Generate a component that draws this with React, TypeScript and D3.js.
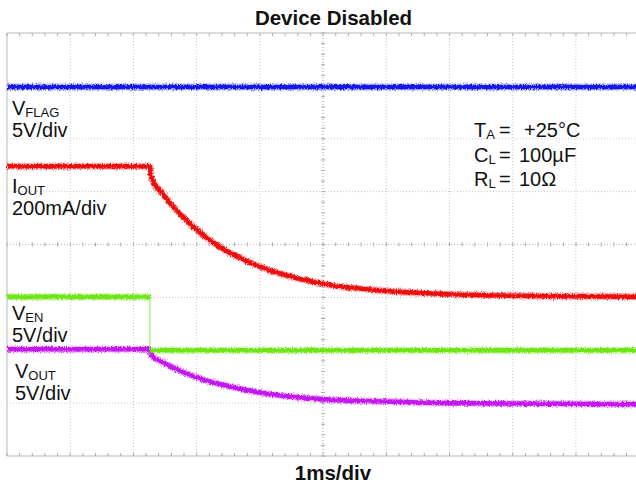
import * as d3 from 'd3'

// time in ms (1ms/div), values in screen divisions (0 = bottom graticule line)
const VFLAG_T = [0, 10]
const VFLAG_V = [6.98, 6.98]

const IOUT_T = [0, 2.26, 2.28, 2.47, 3.02, 3.32, 4.0, 4.89, 6.01, 7.01, 8.02, 9.02, 10]
const IOUT_V = [5.48, 5.48, 5.28, 4.95, 4.26, 3.99, 3.58, 3.28, 3.12, 3.06, 3.03, 3.02, 3.01]

const VEN_T = [0, 2.26, 2.26, 10]
const VEN_V = [3.01, 3.01, 2.0, 2.0]

const VOUT_T = [0, 2.26, 2.28, 2.47, 2.99, 3.69, 4.05, 4.89, 6.01, 7.01, 10]
const VOUT_V = [2.02, 2.02, 1.91, 1.77, 1.49, 1.27, 1.19, 1.08, 1.03, 1.0, 0.98]

const X_DIVS = d3.range(0, 11)
const Y_DIVS = d3.range(0, 9)

const W = 636
const H = 485
const FONT = 'Liberation Sans, Arial, Helvetica, sans-serif'

const x = d3.scaleLinear().domain([0, 10]).range([7, 639.2])
const y = d3.scaleLinear().domain([0, 8]).range([456, 33])

type Pt = [number, number]

function zip(ts: number[], vs: number[]): Pt[] {
  return ts.map((t, i) => [t, vs[i]] as Pt)
}

const line = d3
  .line<Pt>()
  .x((d) => x(d[0]))
  .y((d) => y(d[1]))
  .curve(d3.curveMonotoneX)

const straight = d3
  .line<Pt>()
  .x((d) => x(d[0]))
  .y((d) => y(d[1]))

function Trace({ pts, color }: { pts: Pt[]; color: string }) {
  const d = line(pts) ?? ''
  return (
    <g filter="url(#fuzz)">
      <path d={d} fill="none" stroke={color} strokeWidth={7} strokeOpacity={0.3} />
      <path d={d} fill="none" stroke={color} strokeWidth={4.6} />
    </g>
  )
}

function Label({ x0, yb, main, sub, sub2 }: { x0: number; yb: number; main: string; sub: string; sub2: string }) {
  return (
    <>
      <text x={x0} y={yb} fontSize={20} fontFamily={FONT} fill="#111">
        {main}
        <tspan fontSize={13} dy={2}>{sub}</tspan>
      </text>
      <text x={x0} y={yb + 22} fontSize={20} fontFamily={FONT} fill="#111">
        {sub2}
      </text>
    </>
  )
}

export default function App() {
  const minorX = d3.range(0, 10.001, 0.2)
  const minorY = d3.range(0, 8.001, 0.2)
  const gridColor = '#c8c8c8'

  const ven = zip(VEN_T, VEN_V)
  const venHigh = ven.slice(0, 2)
  const venLow = ven.slice(2)

  return (
    <svg
      width={W}
      height={H}
      style={{ position: 'absolute', left: 0, top: 0, background: '#fff' }}
    >
      <defs>
        <filter id="fuzz" filterUnits="userSpaceOnUse" x={0} y={0} width={W} height={H}>
          <feTurbulence type="fractalNoise" baseFrequency="1.2 0.5" numOctaves={2} seed={4} result="n" />
          <feDisplacementMap in="SourceGraphic" in2="n" scale={4.5} xChannelSelector="R" yChannelSelector="G" />
        </filter>
      </defs>

      {/* graticule */}
      {X_DIVS.slice(1, 10).map((d) => (
        <line key={'gx' + d} x1={x(d)} x2={x(d)} y1={y(0)} y2={y(8)} stroke={gridColor} strokeWidth={1} strokeDasharray="1 2" />
      ))}
      {Y_DIVS.slice(1, 8).map((d) => (
        <line key={'gy' + d} x1={x(0)} x2={W} y1={y(d)} y2={y(d)} stroke={gridColor} strokeWidth={1} strokeDasharray="1 2" />
      ))}
      {/* border */}
      <line x1={x(0)} x2={W} y1={y(8)} y2={y(8)} stroke="#cfcfcf" strokeWidth={1.5} />
      <line x1={x(0)} x2={W} y1={y(0)} y2={y(0)} stroke="#cfcfcf" strokeWidth={1.5} />
      <line x1={x(0)} x2={x(0)} y1={y(0)} y2={y(8)} stroke="#cfcfcf" strokeWidth={1.5} />

      {/* minor ticks on centre axes and borders */}
      {minorX.map((t, i) => (
        <g key={'mx' + i} stroke="#aaa" strokeWidth={1}>
          <line x1={x(t)} x2={x(t)} y1={y(4) - 2} y2={y(4) + 2} />
          <line x1={x(t)} x2={x(t)} y1={y(0) - 3} y2={y(0)} />
          <line x1={x(t)} x2={x(t)} y1={y(8)} y2={y(8) + 3} />
        </g>
      ))}
      {minorY.map((v, i) => (
        <g key={'my' + i} stroke="#aaa" strokeWidth={1}>
          <line x1={x(5) - 2} x2={x(5) + 2} y1={y(v)} y2={y(v)} />
        </g>
      ))}
      <line x1={x(5)} x2={x(5)} y1={y(0)} y2={y(8)} stroke="#bbb" strokeWidth={1} strokeDasharray="1 2" />
      <line x1={x(0)} x2={W} y1={y(4)} y2={y(4)} stroke="#bbb" strokeWidth={1} strokeDasharray="1 2" />

      {/* traces */}
      <Trace pts={zip(VFLAG_T, VFLAG_V)} color="#1414e6" />
      <Trace pts={zip(IOUT_T, IOUT_V)} color="#ee0a0a" />
      <Trace pts={zip(VOUT_T, VOUT_V)} color="#c414ee" />
      <path d={straight(ven) ?? ''} fill="none" stroke="#86f03c" strokeWidth={1} />
      <Trace pts={venHigh} color="#6ee614" />
      <Trace pts={venLow} color="#6ee614" />

      {/* channel labels */}
      <Label x0={12} yb={115} main="V" sub="FLAG" sub2="5V/div" />
      <Label x0={12} yb={193} main="I" sub="OUT" sub2="200mA/div" />
      <Label x0={12} yb={320} main="V" sub="EN" sub2="5V/div" />
      <Label x0={15} yb={378} main="V" sub="OUT" sub2="5V/div" />

      {/* conditions */}
      <g fontFamily={FONT} fontSize={20} fill="#111">
        <text x={474} y={137}>
          T<tspan fontSize={13} dy={2}>A</tspan>
        </text>
        <text x={499} y={137}>=</text>
        <text x={524} y={137}>+25°C</text>
        <text x={474} y={162}>
          C<tspan fontSize={13} dy={2}>L</tspan>
        </text>
        <text x={499} y={162}>=</text>
        <text x={519} y={162}>100µF</text>
        <text x={474} y={186}>
          R<tspan fontSize={13} dy={2}>L</tspan>
        </text>
        <text x={499} y={186}>=</text>
        <text x={519} y={186}>10Ω</text>
      </g>

      {/* title and time base */}
      <text x={333.5} y={25} textAnchor="middle" fontFamily={FONT} fontWeight={700} fontSize={20.5} fill="#111">
        Device Disabled
      </text>
      <text x={333} y={480} textAnchor="middle" fontFamily={FONT} fontWeight={700} fontSize={20.5} fill="#111">
        1ms/div
      </text>
    </svg>
  )
}
